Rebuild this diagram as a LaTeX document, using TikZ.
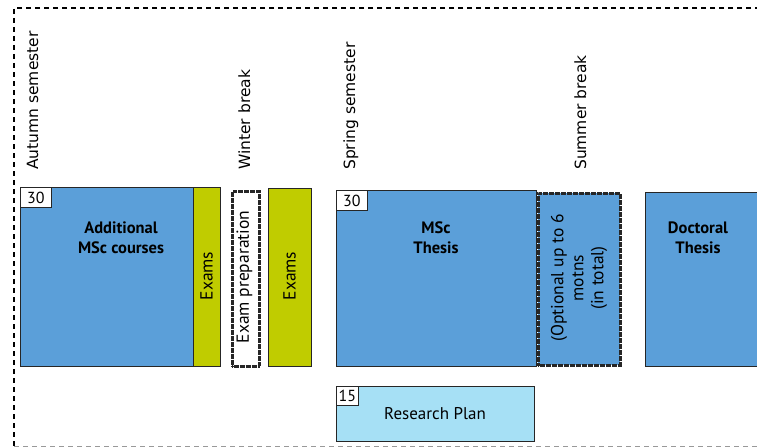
\documentclass[tikz,border=0pt]{standalone}
\usepackage{fontspec}
\setmainfont{PT Sans}
\newfontfamily\labelfont{DejaVu Sans}
\definecolor{cblue}{RGB}{91,159,217}
\definecolor{cgreen}{RGB}{192,204,0}
\definecolor{clight}{RGB}{166,224,245}
\tikzset{
  box/.style={draw=black!85, line width=0.9pt, anchor=north west, inner sep=0pt},
  hatchbox/.style={preaction={draw=black!45, line width=2.6pt},
    draw=black!85, line width=2.6pt, dash pattern=on 0.6pt off 0.6pt, anchor=north west, inner sep=0pt},
  credit/.style={draw=black!85, fill=white, line width=0.8pt, anchor=north west, inner sep=0pt, font=\fontsize{16}{16}\selectfont},
  title/.style={font=\fontsize{16.5}{20}\selectfont\bfseries, align=center},
  vtext/.style={rotate=90, font=\fontsize{17.5}{20}\selectfont, align=center},
  period/.style={rotate=90, anchor=base west, inner sep=0pt, font=\labelfont\fontsize{15.5}{18}\selectfont},
  frame/.style={line width=1.3pt, dash pattern=on 5pt off 4pt}
}
\begin{document}
\begin{tikzpicture}[x=1pt,y=-1pt]
\useasboundingbox (0,0) rectangle (757,447);
% frame
\draw[frame] (760,8) -- (14,8) -- (14,446);
\draw[frame, black!40, line width=1pt] (14,446) -- (760,446);
% period labels
\node[period] (lautumn) at (38,170) {Autumn semester};
\node[period] (lwinter) at (250,170) {Winter break};
\node[period] (lspring) at (355,170) {Spring semester};
\node[period] (lsummer) at (586,170) {Summer break};
% autumn
\node[box, fill=cblue, minimum width=173, minimum height=179] (autumn) at (20,187) {};
\node[credit, minimum width=31, minimum height=20] (c1) at (20,187) {30};
\node[title] (tautumn) at (121,238) {Additional\\MSc courses};
\node[box, fill=cgreen, minimum width=27, minimum height=179] (exams1) at (193,187) {};
\node[vtext] (texams1) at (206.5,276) {Exams};
\node[hatchbox, fill=white, minimum width=27, minimum height=175] (prep) at (231,190) {};
\node[vtext] (tprep) at (244.5,277) {Exam preparation};
\node[box, fill=cgreen, minimum width=43, minimum height=178] (exams2) at (268,188) {};
\node[vtext] (texams2) at (289.5,276) {Exams};
% spring
\node[box, fill=cblue, minimum width=200, minimum height=176] (msc) at (336,190) {};
\node[credit, minimum width=31, minimum height=20] (c2) at (336,190) {30};
\node[title] (tmsc) at (436,238) {MSc\\Thesis};
\node[hatchbox, fill=cblue, minimum width=82, minimum height=172] (opt) at (537,192) {};
\node[vtext] (topt) at (579,278) {(Optional up to 6\\motns\\(in total)};
\node[box, fill=cblue, minimum width=120, minimum height=174] (doc) at (645,192) {};
\node[title] (tdoc) at (698,238) {Doctoral\\Thesis};
% research plan
\node[box, fill=clight, minimum width=198, minimum height=55] (plan) at (336,386) {};
\node[credit, minimum width=22, minimum height=19] (c3) at (336,386) {15};
\node[font=\fontsize{17}{18}\selectfont] (tplan) at (435,414) {Research Plan};
\end{tikzpicture}
\end{document}
